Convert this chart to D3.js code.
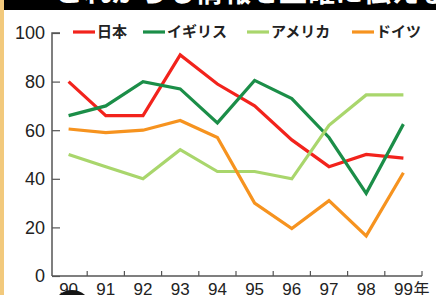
<!DOCTYPE html>
<html>
<head>
<meta charset="utf-8">
<script src="https://cdn.jsdelivr.net/npm/d3@7"></script>
<style>
  html, body { margin: 0; padding: 0; background: #fff; }
  svg { display: block; }
</style>
</head>
<body>
<div id="chart"></div>
<script>
// years and series
const years = ["90", "91", "92", "93", "94", "95", "96", "97", "98", "99"];
const japan   = [80, 66, 66, 91, 79, 70, 56, 45, 50, 48.5];
const uk      = [66, 70, 80, 77, 63, 80.5, 73, 57, 34, 62.5];
const usa     = [50, 45, 40, 52, 43, 43, 40, 62, 74.5, 74.5];
const germany = [60.5, 59, 60, 64, 57, 30, 19.5, 31, 16.5, 42.5];
const yTicks  = [0, 20, 40, 60, 80, 100];

const series = [
  { name: "日本", values: japan, color: "#f2231c" },
  { name: "イギリス", values: uk, color: "#1b8e48" },
  { name: "アメリカ", values: usa, color: "#a9d66c" },
  { name: "ドイツ", values: germany, color: "#f6931f" }
];

const width = 436, height = 295;
const numFont = "'Liberation Sans', Arial, sans-serif";
const jpFont = "'Noto Sans CJK JP', sans-serif";

const svg = d3.select("#chart").append("svg")
    .attr("width", width)
    .attr("height", height);

// left strip and top band
svg.append("rect").attr("x", 0).attr("y", 0).attr("width", 4).attr("height", height).attr("fill", "#f2c97c");
svg.append("rect").attr("x", 4).attr("y", 0).attr("width", width - 4).attr("height", 10).attr("fill", "#000");
svg.append("text")
    .attr("x", 55).attr("y", 2)
    .style("font-family", jpFont)
    .style("font-weight", "bold")
    .style("font-size", "28px")
    .attr("fill", "#fff")
    .text("これからも情報を正確に伝える");

// scales
var x = d3.scaleBand().domain(years).range([50, 422]),
    y = d3.scaleLinear().domain([0, 100]).range([276, 33]);

// y axis (ticks inward)
const yAxis = svg.append("g")
    .attr("transform", "translate(52,0)")
    .call(d3.axisRight(y).tickValues(yTicks).tickSize(8).tickFormat(""));
yAxis.select(".domain").attr("d", "M8,33H0V276").attr("stroke", "#555").attr("stroke-width", 1.5);
yAxis.selectAll(".tick line").attr("stroke", "#555").attr("stroke-width", 1.2);

svg.append("g").selectAll("text")
    .data(yTicks)
    .enter()
    .append("text")
    .attr("x", 45)
    .attr("y", d => y(d))
    .attr("dy", "0.36em")
    .attr("text-anchor", "end")
    .style("font-family", numFont)
    .style("font-size", "18px")
    .attr("fill", "#222")
    .text(d => d);

// x axis: tick marks on band boundaries
const xAxis = svg.append("g")
    .attr("transform", "translate(0,276)");
xAxis.append("line")
    .attr("x1", 52).attr("x2", x.range()[1])
    .attr("stroke", "#555").attr("stroke-width", 1.5);
xAxis.selectAll("line.tk")
    .data(years)
    .enter()
    .append("line")
    .attr("class", "tk")
    .attr("x1", d => x(d) + x.bandwidth())
    .attr("x2", d => x(d) + x.bandwidth())
    .attr("y1", 0).attr("y2", -5)
    .attr("stroke", "#555").attr("stroke-width", 1.2);

svg.append("g").selectAll("text")
    .data(years)
    .enter()
    .append("text")
    .attr("x", d => x(d) + x.bandwidth() / 2)
    .attr("y", 295)
    .attr("text-anchor", "middle")
    .style("font-family", numFont)
    .style("font-size", "17px")
    .attr("fill", "#222")
    .text(d => d);
svg.append("text")
    .attr("x", x("99") + x.bandwidth() / 2 + 10)
    .attr("y", 295)
    .style("font-family", jpFont)
    .style("font-size", "16px")
    .attr("fill", "#222")
    .text("年");

// dark blob at bottom
svg.append("ellipse")
    .attr("cx", 72).attr("cy", 306).attr("rx", 18).attr("ry", 16)
    .attr("fill", "#151515");

// lines
var line = d3.line()
    .x((d, i) => x(years[i]) + x.bandwidth() / 2)
    .y(d => y(d));

svg.append("g").selectAll("path")
    .data(series)
    .enter()
    .append("path")
    .attr("d", d => line(d.values))
    .style("fill", "none")
    .style("stroke", d => d.color)
    .style("stroke-width", 3.2)
    .style("stroke-linejoin", "miter");

// legend
const legendX = [73, 143, 247, 352];
const legend = svg.append("g").selectAll("g")
    .data(series)
    .enter()
    .append("g")
    .attr("transform", (d, i) => "translate(" + legendX[i] + ",32)");
legend.append("line")
    .attr("x1", 0).attr("x2", 22)
    .attr("stroke", d => d.color)
    .attr("stroke-width", 3.2);
legend.append("text")
    .attr("x", 24)
    .attr("dy", "0.36em")
    .style("font-family", jpFont)
    .style("font-weight", "bold")
    .style("font-size", "15px")
    .attr("fill", "#222")
    .text(d => d.name);
</script>
</body>
</html>
